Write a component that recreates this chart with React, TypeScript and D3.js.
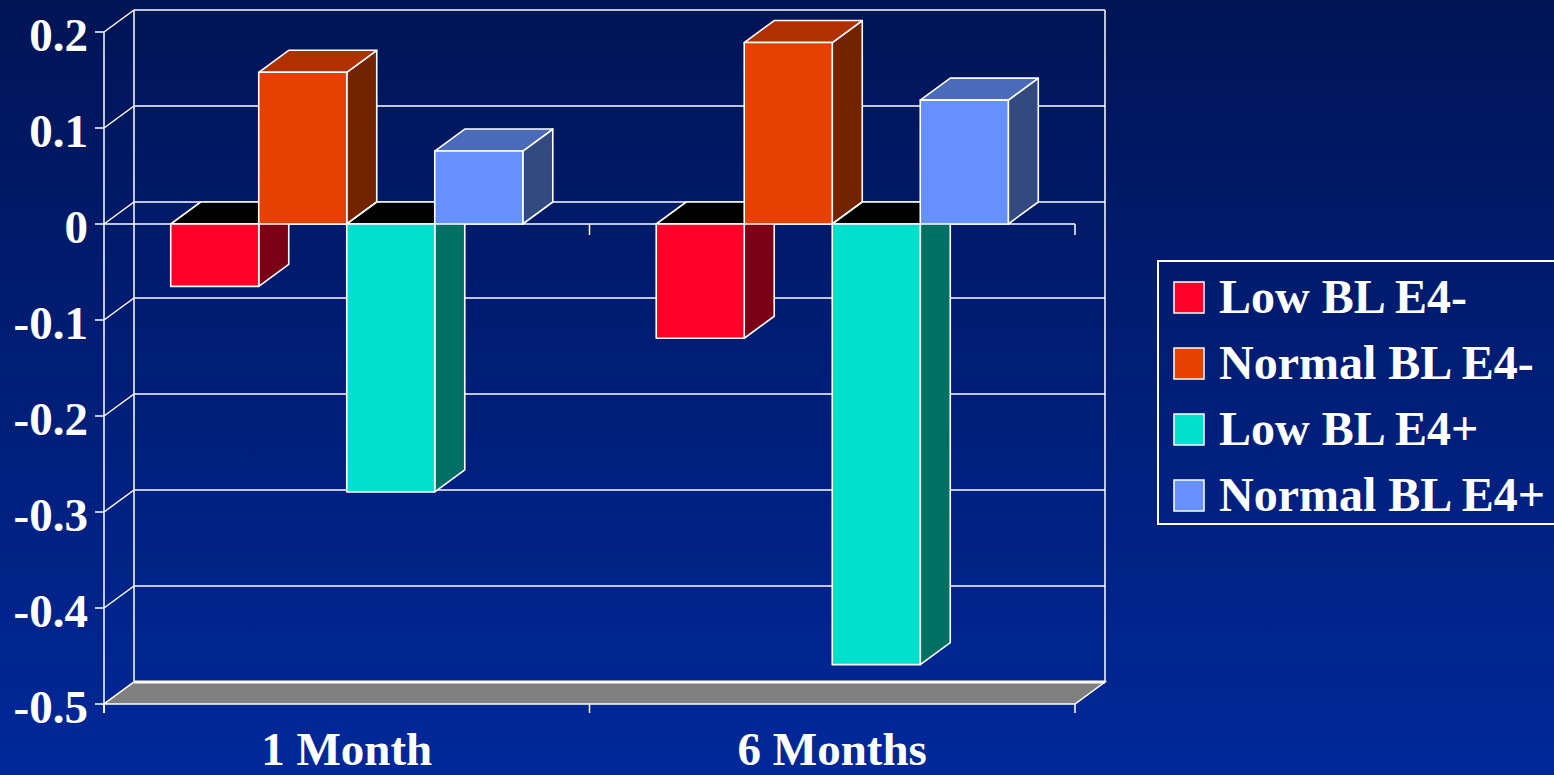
import React from "react";
import * as d3 from "d3";

// Chart data
const categories = ["1 Month", "6 Months"];
const seriesNames = ["Low BL E4-", "Normal BL E4-", "Low BL E4+", "Normal BL E4+"];
const lowE4Neg = [-0.065, -0.119];
const normalE4Neg = [0.158, 0.189];
const lowE4Pos = [-0.279, -0.459];
const normalE4Pos = [0.076, 0.129];
const yTicks = [0.2, 0.1, 0, -0.1, -0.2, -0.3, -0.4, -0.5];
const yTickLabels = ["0.2", "0.1", "0", "-0.1", "-0.2", "-0.3", "-0.4", "-0.5"];

const seriesValues = [lowE4Neg, normalE4Neg, lowE4Pos, normalE4Pos];

// face colours per series: front, top, side
const frontColors = ["#ff0028", "#e64100", "#00e0cc", "#6690ff"];
const topColors = ["#b80020", "#b03000", "#00a898", "#4a6bba"];
const sideColors = ["#7a0016", "#742300", "#007064", "#334a80"];

const W = 1554;
const H = 775;
const DX = 30;
const DY = -22;
const FONT = "'Liberation Serif', 'Times New Roman', serif";

export default function App() {
  const y = d3.scaleLinear().domain([-0.5, 0.2]).range([704, 32]);
  const x = d3.scaleBand<string>().domain(categories).range([104, 1075]).padding(0);
  const inner = d3
    .scaleBand<string>()
    .domain(seriesNames)
    .range([0, x.bandwidth()])
    .paddingInner(0)
    .paddingOuter(0.758);

  const xL = 104;
  const xR = 1075;
  const y0 = y(0);
  const yMin = y(-0.5);

  const pts = (p: [number, number][]) => p.map((q) => q.join(",")).join(" ");

  const bars: JSX.Element[] = [];
  categories.forEach((cat, ci) => {
    seriesNames.forEach((s, si) => {
      const v = seriesValues[si][ci];
      const bx = (x(cat) as number) + (inner(s) as number);
      const bw = inner.bandwidth();
      const yv = y(v);
      const top = Math.min(y0, yv);
      const bot = Math.max(y0, yv);
      const topFill = v >= 0 ? topColors[si] : "#000000";
      bars.push(
        <g key={`${ci}-${si}`} stroke="#ffffff" strokeWidth={1.6} strokeLinejoin="round">
          <polygon
            points={pts([
              [bx + bw, top],
              [bx + bw + DX, top + DY],
              [bx + bw + DX, bot + DY],
              [bx + bw, bot],
            ])}
            fill={sideColors[si]}
          />
          <polygon
            points={pts([
              [bx, top],
              [bx + bw, top],
              [bx + bw + DX, top + DY],
              [bx + DX, top + DY],
            ])}
            fill={topFill}
          />
          <rect x={bx} y={top} width={bw} height={bot - top} fill={frontColors[si]} />
        </g>
      );
    });
  });

  const tickXs = [xL, (xL + xR) / 2, xR];

  return (
    <svg
      width={W}
      height={H}
      viewBox={`0 0 ${W} ${H}`}
      style={{ position: "fixed", left: 0, top: 0, display: "block" }}
    >
      <defs>
        <linearGradient id="bg" x1="0" y1="0" x2="0" y2="1">
          <stop offset="0" stopColor="#001456" />
          <stop offset="1" stopColor="#002899" />
        </linearGradient>
      </defs>
      <rect x={0} y={0} width={W} height={H} fill="url(#bg)" />

      {/* back wall and side wall gridlines */}
      <g stroke="#ffffff" strokeWidth={1.5} fill="none">
        {yTicks.map((t) => (
          <g key={`g${t}`}>
            <line x1={xL + DX} x2={xR + DX} y1={y(t) + DY} y2={y(t) + DY} />
            <line x1={xL} x2={xL + DX} y1={y(t)} y2={y(t) + DY} />
          </g>
        ))}
        <line x1={xL + DX} x2={xL + DX} y1={y(0.2) + DY} y2={yMin + DY} />
        <line x1={xR + DX} x2={xR + DX} y1={y(0.2) + DY} y2={yMin + DY} />
      </g>

      {/* floor */}
      <polygon
        points={pts([
          [xL, yMin],
          [xR, yMin],
          [xR + DX, yMin + DY],
          [xL + DX, yMin + DY],
        ])}
        fill="#808080"
        stroke="#ffffff"
        strokeWidth={1.5}
      />
      <line x1={xL + DX} x2={xR + DX} y1={yMin + DY} y2={yMin + DY} stroke="#ffffff" strokeWidth={3} />

      {/* front zero line with category ticks */}
      <g stroke="#ffffff" strokeWidth={1.5}>
        <line x1={xL} x2={xR} y1={y0} y2={y0} />
        {tickXs.slice(1).map((tx) => (
          <line key={`zt${tx}`} x1={tx} x2={tx} y1={y0} y2={y0 + 11} />
        ))}
      </g>

      {bars}

      {/* value axis */}
      <g stroke="#ffffff" strokeWidth={1.5}>
        <line x1={xL} x2={xL} y1={y(0.2)} y2={yMin + 9} />
        {yTicks.map((t) => (
          <line key={`yt${t}`} x1={xL - 9} x2={xL} y1={y(t)} y2={y(t)} />
        ))}
        {tickXs.map((tx) => (
          <line key={`bt${tx}`} x1={tx} x2={tx} y1={yMin} y2={yMin + 9} />
        ))}
      </g>
      <g fill="#ffffff" fontFamily={FONT} fontWeight="bold" fontSize={47}>
        {yTicks.map((t, i) => (
          <text key={`yl${t}`} x={88} y={y(t) + 19} textAnchor="end">
            {yTickLabels[i]}
          </text>
        ))}
        {categories.map((c) => (
          <text key={`xl${c}`} x={(x(c) as number) + x.bandwidth() / 2} y={765} textAnchor="middle">
            {c}
          </text>
        ))}
      </g>

      {/* legend */}
      <rect x={1158} y={261} width={400} height={263} fill="none" stroke="#ffffff" strokeWidth={2} />
      {seriesNames.map((s, i) => (
        <g key={`lg${s}`}>
          <rect
            x={1174}
            y={282 + i * 66}
            width={30}
            height={31}
            fill={frontColors[i]}
            stroke="#ffffff"
            strokeWidth={1.5}
          />
          <text
            x={1219}
            y={313 + i * 66}
            fill="#ffffff"
            fontFamily={FONT}
            fontWeight="bold"
            fontSize={48}
          >
            {s}
          </text>
        </g>
      ))}
    </svg>
  );
}
